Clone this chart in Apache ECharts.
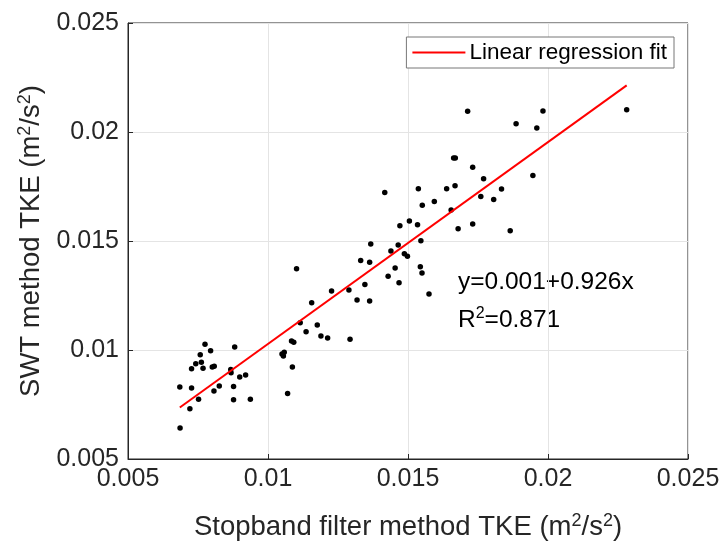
<!DOCTYPE html>
<html>
<head>
<meta charset="utf-8">
<script src="https://cdn.jsdelivr.net/npm/echarts@6/dist/echarts.min.js"></script>
<style>html,body{margin:0;padding:0;background:#fff}#c{width:721px;height:541px}</style>
</head>
<body>
<div id="c"></div>
<script>
// Stopband filter method TKE (x) vs SWT method TKE (y)
var stopbandTKE = [
  0.01102,0.01156,0.01115,0.01176,0.01136,0.01189,0.00775,0.00795,0.00881,0.00758,
  0.00742,0.00762,0.00727,0.00768,0.00801,0.00808,0.00867,0.00868,0.00899,0.00920,
  0.00685,0.00727,0.00826,0.00877,0.00807,0.00752,0.00877,0.00937,0.00721,0.01050,
  0.01058,0.01055,0.01084,0.01092,0.01087,0.01070,0.00686,
  0.01663,0.01669,0.01731,0.01417,0.01537,0.01638,0.01668,0.01594,0.01551,0.01654,
  0.01505,0.01471,0.01534,0.01679,0.01731,0.01546,0.01367,0.01465,0.01439,0.01487,
  0.01498,0.01331,0.01363,0.01454,0.01544,0.01550,0.01429,0.01346,0.01468,0.01575,
  0.01227,0.01289,0.01318,0.01363,0.01213,0.01293,
  0.01713,0.01982,0.02281,0.01886,0.01960,0.01770,0.01946,0.01834,0.01760,0.01806,0.01865
];
var swtTKE = [
  0.01373,0.01217,0.01125,0.01115,0.01084,0.01064,0.01026,0.00997,0.01014,0.00978,
  0.00937,0.00944,0.00914,0.00916,0.00922,0.00925,0.00911,0.00896,0.00876,0.00885,
  0.00830,0.00826,0.00835,0.00833,0.00812,0.00774,0.00772,0.00774,0.00731,0.00982,
  0.00990,0.00972,0.01041,0.01035,0.00922,0.00800,0.00642,
  0.01881,0.01881,0.01838,0.01722,0.01740,0.01740,0.01754,0.01681,0.01664,0.01642,
  0.01592,0.01570,0.01575,0.01556,0.01578,0.01501,0.01486,0.01482,0.01454,0.01442,
  0.01430,0.01411,0.01402,0.01376,0.01382,0.01353,0.01338,0.01301,0.01309,0.01257,
  0.01271,0.01275,0.01229,0.01225,0.01055,0.01049,
  0.02095,0.02096,0.02102,0.02038,0.02018,0.01786,0.01801,0.01739,0.01704,0.01690,0.01547
];
// regression line endpoints (y = 0.001 + 0.926x)
var fitX = [0.00685, 0.02281];
var fitY = [0.00736, 0.02214];
var xTicks = [0.005, 0.025, 0.005]; // min, max, interval
var yTicks = [0.005, 0.025, 0.005];
var legendLabel = 'Linear regression fit';
var eqText = 'y=0.001+0.926x';
var r2Value = '0.871';

var FONT = '"Liberation Sans", Arial, Helvetica, sans-serif';
var scatterData = stopbandTKE.map(function (x, i) { return [x, swtTKE[i]]; });
var fitData = fitX.map(function (x, i) { return [x, fitY[i]]; });

var chart = echarts.init(document.getElementById('c'), null, {renderer: 'canvas'});
var sup = {sup: {fontSize: 18, verticalAlign: 'top', padding: [0, 0, 13, 0], fontFamily: FONT, color: '#262626'}};
var axisCommon = {
  axisLine: {show: true, onZero: false, lineStyle: {color: '#262626', width: 1}},
  axisTick: {show: true, inside: true, length: 5, lineStyle: {color: '#262626'}},
  splitLine: {show: true, lineStyle: {color: '#e4e4e4', width: 1}},
  axisLabel: {color: '#262626', fontSize: 25, fontFamily: FONT},
  nameLocation: 'middle',
  nameTextStyle: {color: '#262626', fontSize: 27.5, fontFamily: FONT, rich: sup}
};
chart.setOption({
  animation: false,
  backgroundColor: '#ffffff',
  grid: {left: 128, top: 23, width: 560, height: 436, show: true, borderColor: '#262626', borderWidth: 1,
         containLabel: false, outerBoundsMode: 'none'},
  legend: {
    data: [{name: legendLabel, icon: 'rect'}],
    right: 47, top: 37,
    itemWidth: 53, itemHeight: 2, itemGap: 4,
    padding: [4, 7, 4, 6],
    borderColor: '#777', borderWidth: 1, borderRadius: 0,
    backgroundColor: '#fff',
    textStyle: {fontSize: 22.5, fontFamily: FONT, color: '#000', padding: [0, 0, 0, -1]}
  },
  xAxis: Object.assign({}, axisCommon, {
    type: 'value', min: xTicks[0], max: xTicks[1], interval: xTicks[2],
    name: 'Stopband filter method TKE (m{sup|2}/s{sup|2})', nameGap: 53,
    axisLabel: Object.assign({}, axisCommon.axisLabel, {margin: 8})
  }),
  yAxis: Object.assign({}, axisCommon, {
    type: 'value', min: yTicks[0], max: yTicks[1], interval: yTicks[2],
    name: 'SWT method TKE (m{sup|2}/s{sup|2})', nameGap: 68,
    axisLabel: Object.assign({}, axisCommon.axisLabel, {margin: 9})
  }),
  series: [
    {type: 'scatter', name: 'data', data: scatterData, symbolSize: 5.5,
     itemStyle: {color: '#000', opacity: 1}, z: 3},
    {type: 'line', name: legendLabel, data: fitData, symbol: 'none', showSymbol: false,
     lineStyle: {color: '#ff0000', width: 2}, itemStyle: {color: '#ff0000'}, z: 4}
  ],
  graphic: [
    {type: 'text', left: 458, top: 270,
     style: {text: eqText, fontSize: 24.5, fontFamily: FONT, fill: '#000'}},
    {type: 'text', left: 458, top: 306,
     style: {text: 'R{s|2}=' + r2Value, fontSize: 24.5, fontFamily: FONT, fill: '#000',
       rich: {s: {fontSize: 16, verticalAlign: 'top', padding: [0, 0, 12, 0], fontFamily: FONT, fill: '#000'}}}}
  ]
});
</script>
</body>
</html>
